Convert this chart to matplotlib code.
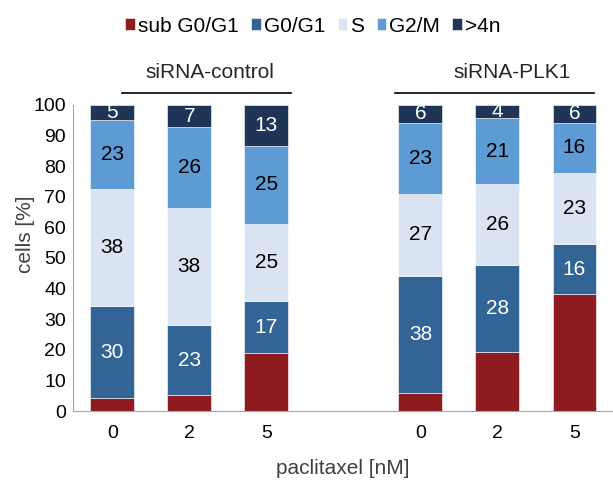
import matplotlib.pyplot as plt
import numpy as np

plt.rcParams['font.family'] = ['Liberation Sans', 'DejaVu Sans']

doses = ["0", "2", "5", "0", "2", "5"]
phases = ["sub G0/G1", "G0/G1", "S", "G2/M", ">4n"]
# percentages per group: siRNA-control 0/2/5 nM, siRNA-PLK1 0/2/5 nM
sub_g0g1 = [4.2, 5.2, 18.8, 5.9, 19.4, 38.2]
g0g1 = [30.0, 22.8, 17.0, 38.3, 28.4, 16.2]
s_phase = [38.2, 38.4, 25.4, 26.8, 26.4, 23.4]
g2m = [22.6, 26.2, 25.4, 23.2, 21.4, 16.3]
over4n = [5.0, 7.4, 13.4, 5.8, 4.4, 5.9]
colors = ["#8e1b1f", "#336496", "#d9e3f1", "#5e9bd4", "#1f3557"]
label_colors = [None, "white", "black", "black", "white"]


def main():
    fig = plt.figure(figsize=(6.13, 4.83), dpi=100)
    ax = fig.add_axes([0.119, 0.149, 0.881, 0.634])
    x = np.array([0, 1, 2, 4, 5, 6])
    series = [sub_g0g1, g0g1, s_phase, g2m, over4n]
    bottom = np.zeros(len(x))
    for vals, name, col, lc in zip(series, phases, colors, label_colors):
        vals = np.array(vals, dtype=float)
        ax.bar(x, vals, 0.57, bottom=bottom, color=col, label=name,
               edgecolor="white", linewidth=0.4)
        if lc is not None:
            for xi, b, v in zip(x, bottom, vals):
                ax.text(xi, b + v / 2, str(int(round(v))), ha="center",
                        va="center", color=lc, fontsize=15)
        bottom += vals

    ax.set_xlim(-0.51, 6.5)
    ax.set_ylim(0, 100)
    ax.set_yticks(range(0, 101, 10))
    ax.set_xticks(x)
    ax.set_xticklabels(doses)
    ax.tick_params(length=0, labelsize=14, pad=5)
    ax.tick_params(axis="x", pad=10)
    for sp in ["top", "right"]:
        ax.spines[sp].set_visible(False)
    for sp in ["left", "bottom"]:
        ax.spines[sp].set_color("#a6a6a6")
    ax.set_ylabel("cells [%]", fontsize=15, color="#404040", va="center")
    ax.yaxis.set_label_coords(-0.087, 0.578)
    ax.set_xlabel("paclitaxel [nM]", fontsize=15, color="#404040", labelpad=12)

    fig.legend(loc="center", bbox_to_anchor=(313 / 613, 1 - 26 / 483), ncol=5,
               frameon=False, fontsize=15, handlelength=0.45,
               handleheight=0.45, handletextpad=0.15, columnspacing=0.6,
               borderpad=0, borderaxespad=0)

    # group labels with lines
    fig.text(210 / 613, 1 - 72 / 483, "siRNA-control", ha="center",
             va="center", fontsize=15, color="#262626")
    fig.text(512 / 613, 1 - 72 / 483, "siRNA-PLK1", ha="center",
             va="center", fontsize=15, color="#262626")
    fig.add_artist(plt.Line2D([122 / 613, 291 / 613], [1 - 93 / 483] * 2,
                              color="black", lw=1.2))
    fig.add_artist(plt.Line2D([395 / 613, 594 / 613], [1 - 93 / 483] * 2,
                              color="black", lw=1.2))

    fig.savefig("out.png", dpi=100)


if __name__ == "__main__":
    main()
